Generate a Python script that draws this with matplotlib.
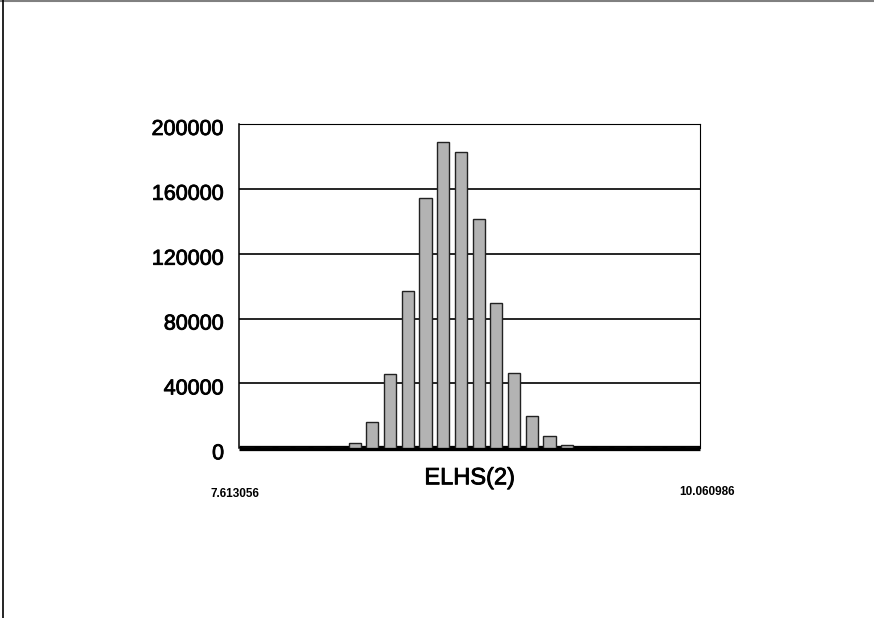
import numpy as np
import matplotlib
matplotlib.use("Agg")
import matplotlib.pyplot as plt
import matplotlib.transforms as mtransforms
import matplotlib.patheffects as pe
from matplotlib.lines import Line2D

# histogram of ELHS(2), 26 bins between the min and max values
x_min = 7.613056
x_max = 10.060986
counts = [0, 0, 0, 0, 300, 300, 3500, 16000, 46000, 96800, 154100, 189100, 182700,
          141700, 89800, 46600, 20200, 7400, 2100, 0, 300, 300, 0, 0, 0, 0]
y_ticks = [0, 40000, 80000, 120000, 160000, 200000]
x_label = "ELHS(2)"

plt.rcParams["font.family"] = ["Liberation Sans", "DejaVu Sans"]

fig = plt.figure(figsize=(8.74, 6.18), dpi=100)
ax = fig.add_axes([0.274, 0.2746, 0.527, 0.5248])

edges = np.linspace(x_min, x_max, len(counts) + 1)
width = edges[1] - edges[0]
centers = edges[:-1] + width / 2

ax.bar(centers, counts, width=width * 0.68, color="#b3b3b3", edgecolor="#222222",
       linewidth=1.0, zorder=3)

ax.set_xlim(x_min, x_max)
ax.set_ylim(0, 200000)
ax.set_yticks(y_ticks)
ax.set_yticklabels([str(v) for v in y_ticks], fontsize=15.5)
ax.tick_params(axis="y", length=0, pad=11)
ax.set_xticks([])

# the original text is a bit heavier than regular weight
heavy = [pe.withStroke(linewidth=0.6, foreground="black")]

# labels sit a little below their grid lines in the original
shift = mtransforms.ScaledTranslation(0, -3 / 100, fig.dpi_scale_trans)
for lab in ax.get_yticklabels():
    lab.set_transform(lab.get_transform() + shift)
    lab.set_path_effects(heavy)

ax.yaxis.grid(True, color="black", linewidth=1.2, zorder=1)
ax.set_axisbelow(True)

for side in ["top", "right"]:
    ax.spines[side].set_linewidth(0.8)
ax.spines["left"].set_linewidth(1.1)
ax.spines["bottom"].set_linewidth(3.8)
ax.spines["bottom"].set_capstyle("butt")
ax.spines["bottom"].set_zorder(2)

ax.annotate(x_label, xy=(0.5, 0), xycoords="axes fraction", xytext=(0, -19),
            textcoords="offset pixels", ha="center", va="top", fontsize=17,
            path_effects=heavy)
ax.annotate(f"{x_min:.6f}", xy=(x_min, 0), xycoords="data", xytext=(-5, -46),
            textcoords="offset pixels", ha="center", va="center", fontsize=8.5,
            fontweight="bold")
ax.annotate(f"{x_max:.6f}", xy=(x_max, 0), xycoords="data", xytext=(7, -44),
            textcoords="offset pixels", ha="center", va="center", fontsize=8.5,
            fontweight="bold")

# page border (top and left only)
fig.add_artist(Line2D([0, 1], [0.999, 0.999], transform=fig.transFigure,
                      color="#808080", linewidth=1.5))
fig.add_artist(Line2D([0.004, 0.004], [0, 1], transform=fig.transFigure,
                      color="black", linewidth=1.2))

fig.savefig("out.png", dpi=100)
